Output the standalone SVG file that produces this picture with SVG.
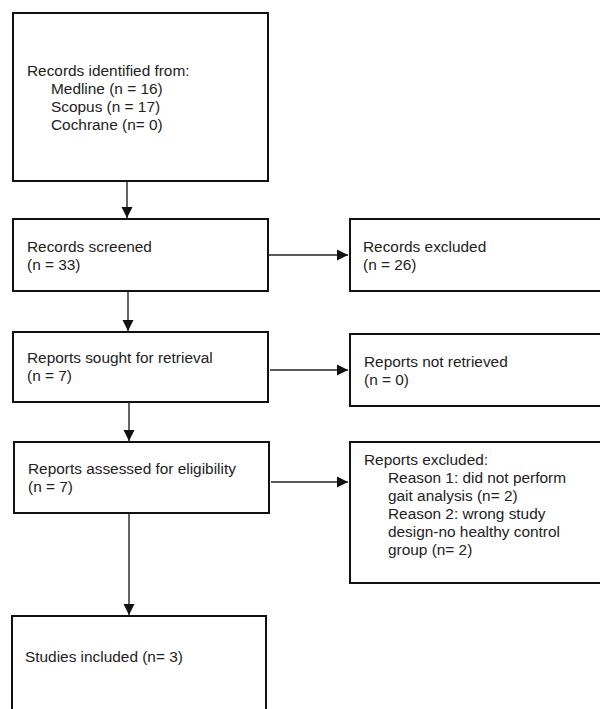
<svg xmlns="http://www.w3.org/2000/svg" width="600" height="709" viewBox="0 0 600 709">
<defs>
<style>
.box{fill:#fff;stroke:#111;stroke-width:2}
.t{font-family:"Liberation Sans",Arial,sans-serif;font-size:15.4px;fill:#222}
.c{fill:none;stroke:#222;stroke-width:1.4}
</style>
<marker id="ah" markerUnits="userSpaceOnUse" markerWidth="12" markerHeight="12" viewBox="0 0 12 12" refX="11" refY="6" orient="auto">
<path d="M0,0.5 L11,6 L0,11.5 Z" fill="#111"/>
</marker>
</defs>
<rect width="600" height="709" fill="#fff"/>
<g id="connectors">
<line class="c" x1="127" y1="181" x2="127" y2="218" marker-end="url(#ah)"/>
<line class="c" x1="128" y1="291" x2="128" y2="331" marker-end="url(#ah)"/>
<line class="c" x1="129" y1="402" x2="129" y2="441" marker-end="url(#ah)"/>
<line class="c" x1="129" y1="513" x2="129" y2="615" marker-end="url(#ah)"/>
<line class="c" x1="269" y1="255" x2="348" y2="255" marker-end="url(#ah)"/>
<line class="c" x1="270" y1="370" x2="348" y2="370" marker-end="url(#ah)"/>
<line class="c" x1="271" y1="482" x2="348" y2="482" marker-end="url(#ah)"/>
</g>
<g id="identified">
<rect class="box" x="13" y="13" width="255" height="168"/>
<text class="t" x="27" y="76">Records identified from:</text>
<text class="t" x="51" y="94">Medline (n = 16)</text>
<text class="t" x="51" y="112">Scopus (n = 17)</text>
<text class="t" x="51" y="130">Cochrane (n= 0)</text>
</g>
<g id="screened">
<rect class="box" x="13" y="219" width="255" height="72"/>
<text class="t" x="27" y="252">Records screened</text>
<text class="t" x="27" y="270">(n = 33)</text>
</g>
<g id="excluded">
<rect class="box" x="350" y="219" width="260" height="72"/>
<text class="t" x="363" y="252">Records excluded</text>
<text class="t" x="363" y="270">(n = 26)</text>
</g>
<g id="sought">
<rect class="box" x="13" y="332" width="255" height="70"/>
<text class="t" x="27" y="363">Reports sought for retrieval</text>
<text class="t" x="27" y="381">(n = 7)</text>
</g>
<g id="notretrieved">
<rect class="box" x="350" y="334" width="260" height="72"/>
<text class="t" x="364" y="367">Reports not retrieved</text>
<text class="t" x="364" y="385">(n = 0)</text>
</g>
<g id="assessed">
<rect class="box" x="14" y="442" width="255" height="71"/>
<text class="t" x="28" y="474">Reports assessed for eligibility</text>
<text class="t" x="28" y="492">(n = 7)</text>
</g>
<g id="reportsexcluded">
<rect class="box" x="350" y="442" width="260" height="141"/>
<text class="t" x="364" y="465">Reports excluded:</text>
<text class="t" x="388" y="483">Reason 1: did not perform</text>
<text class="t" x="388" y="501">gait analysis (n= 2)</text>
<text class="t" x="388" y="519">Reason 2: wrong study</text>
<text class="t" x="388" y="537">design-no healthy control</text>
<text class="t" x="388" y="555">group (n= 2)</text>
</g>
<g id="included">
<rect class="box" x="12" y="616" width="254" height="110"/>
<text class="t" x="25" y="662">Studies included (n= 3)</text>
</g>
</svg>
